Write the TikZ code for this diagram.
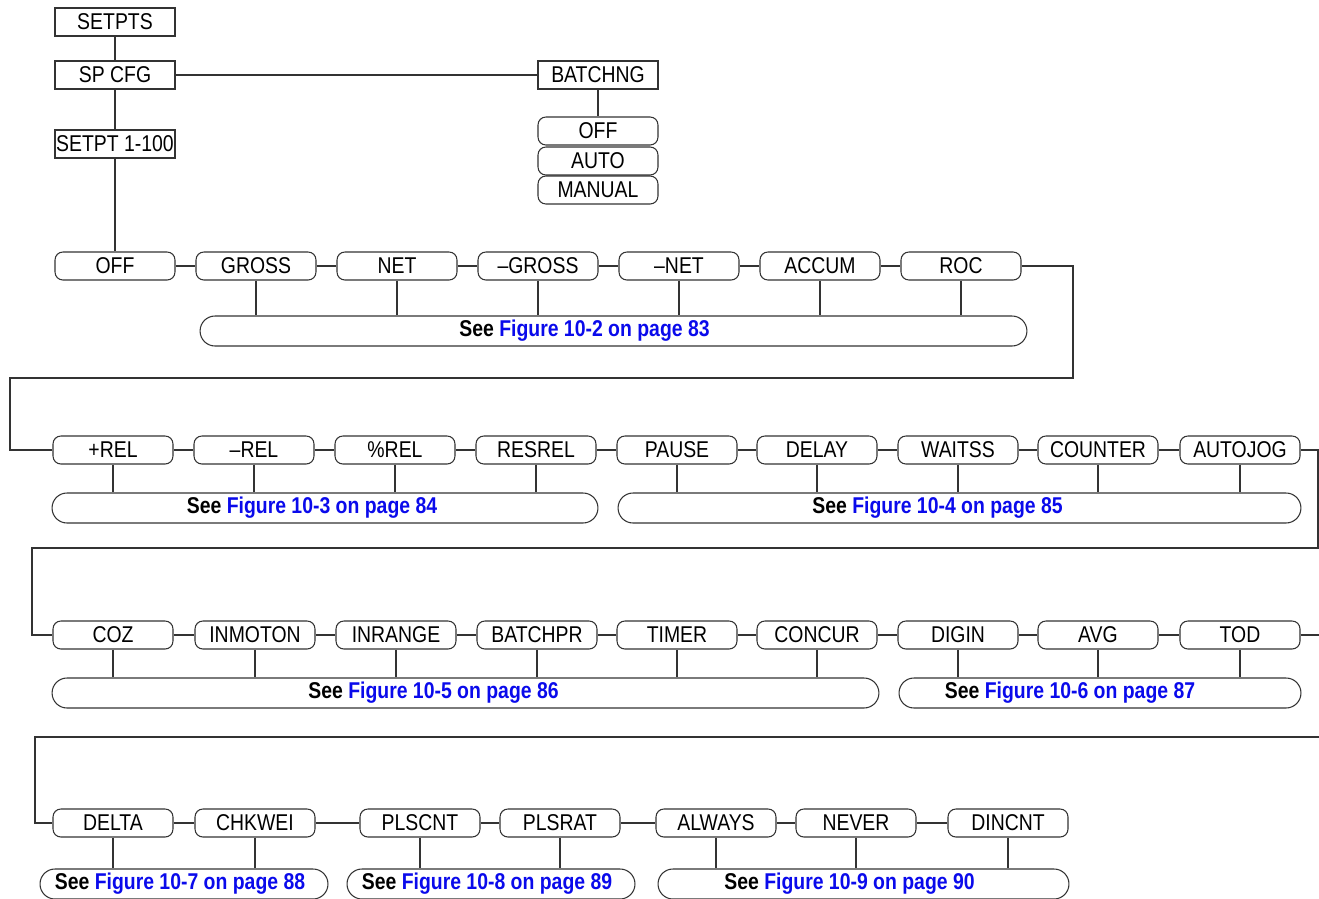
\documentclass[tikz,border=0pt]{standalone}
\usepackage{fontspec}
\setmainfont{Liberation Sans}[FakeStretch=0.85]
\definecolor{linkblue}{RGB}{10,10,235}

\tikzset{
  conn/.style={draw=black!80, line width=0.6pt},
  menu/.style={conn, minimum width=2.4cm, minimum height=0.56cm, inner sep=0pt,
    font=\fontsize{13}{13}\selectfont},
  param/.style={menu, rounded corners=4.5pt},
  seebox/.style={conn, rounded corners=8.5pt, minimum height=0.6cm, inner sep=0pt,
    font=\bfseries\fontsize{13}{13}\selectfont},
}
% text sits a little left of the box centre
\newcommand{\seefig}[2]{See \textcolor{linkblue}{Figure #1}\hspace*{#2}}

\begin{document}
\begin{tikzpicture}[x=0.02cm, y=-0.02cm]
    \useasboundingbox (0,0) rectangle (1319,899);
    % top menus
    \node[menu] (setpts) at (115,22) {SETPTS};
    \node[menu] (spcfg) at (115,75) {SP CFG};
    \node[menu] (setpt) at (115,144) {SETPT 1-100};
    \node[menu] (batchng) at (598,75) {BATCHNG};
    \node[param] (boff) at (598,131) {OFF};
    \node[param] (bauto) at (598,161) {AUTO};
    \node[param] (bmanual) at (598,190) {MANUAL};
    \draw[conn] (setpts) -- (spcfg);
    \draw[conn] (spcfg) -- (setpt);
    \draw[conn] (spcfg) -- (batchng);
    \draw[conn] (batchng) -- (boff);

    % setpoint kinds
    \foreach \n/\t/\x in {off/OFF/115, gross/GROSS/256, net/NET/397,
        mgross/\textendash GROSS/538, mnet/\textendash NET/679, accum/ACCUM/820, roc/ROC/961}
        \node[param] (\n) at (\x,266) {\t};
    \foreach \n/\t/\x in {prel/+REL/113, mrel/\textendash REL/254, pcrel/\%REL/395,
        resrel/RESREL/536, pause/PAUSE/677, delay/DELAY/817, waitss/WAITSS/958,
        counter/COUNTER/1098, autojog/AUTOJOG/1240}
        \node[param] (\n) at (\x,450) {\t};
    \foreach \n/\t/\x in {coz/COZ/113, inmoton/INMOTON/255, inrange/INRANGE/396,
        batchpr/BATCHPR/537, timer/TIMER/677, concur/CONCUR/817, digin/DIGIN/958,
        avg/AVG/1098, tod/TOD/1240}
        \node[param] (\n) at (\x,635) {\t};
    \foreach \n/\t/\x in {delta/DELTA/113, chkwei/CHKWEI/255, plscnt/PLSCNT/420,
        plsrat/PLSRAT/560, always/ALWAYS/716, never/NEVER/856, dincnt/DINCNT/1008}
        \node[param] (\n) at (\x,823) {\t};

    % references
    \node[seebox, minimum width=16.54cm] (see2) at (613.5,331) {\seefig{10-2 on page 83}{1.16cm}};
    \node[seebox, minimum width=10.92cm] (see3) at (325,508) {\seefig{10-3 on page 84}{0.52cm}};
    \node[seebox, minimum width=13.66cm] (see4) at (959.5,508) {\seefig{10-4 on page 85}{0.88cm}};
    \node[seebox, minimum width=16.54cm] (see5) at (465.5,693) {\seefig{10-5 on page 86}{1.28cm}};
    \node[seebox, minimum width=8.04cm] (see6) at (1100,693) {\seefig{10-6 on page 87}{1.2cm}};
    \node[seebox, minimum width=5.76cm] (see7) at (184,884) {\seefig{10-7 on page 88}{0.16cm}};
    \node[seebox, minimum width=5.76cm] (see8) at (491,884) {\seefig{10-8 on page 89}{0.16cm}};
    \node[seebox, minimum width=8.22cm] (see9) at (863.5,884) {\seefig{10-9 on page 90}{0.56cm}};

    % chains
    \draw[conn] (setpt) -- (off);
    \foreach \a/\b in {off/gross, gross/net, net/mgross, mgross/mnet, mnet/accum, accum/roc,
        prel/mrel, mrel/pcrel, pcrel/resrel, resrel/pause, pause/delay, delay/waitss,
        waitss/counter, counter/autojog, coz/inmoton, inmoton/inrange, inrange/batchpr,
        batchpr/timer, timer/concur, concur/digin, digin/avg, avg/tod, delta/chkwei,
        chkwei/plscnt, plscnt/plsrat, plsrat/always, always/never, never/dincnt}
        \draw[conn] (\a) -- (\b);
    \draw[conn] (roc.east) -- (1073,266) -- (1073,378) -- (10,378) |- (prel.west);
    \draw[conn] (autojog.east) -- (1318,450) -- (1318,548) -- (32,548) |- (coz.west);
    \draw[conn] (tod.east) -- (1340,635) -- (1340,737) -- (35,737) |- (delta.west);

    % drops to references
    \foreach \n/\s in {gross/see2, net/see2, mgross/see2, mnet/see2, accum/see2, roc/see2,
        prel/see3, mrel/see3, pcrel/see3, resrel/see3, pause/see4, delay/see4, waitss/see4,
        counter/see4, autojog/see4, coz/see5, inmoton/see5, inrange/see5, batchpr/see5,
        timer/see5, concur/see5, digin/see6, avg/see6, tod/see6, delta/see7, chkwei/see7,
        plscnt/see8, plsrat/see8, always/see9, never/see9, dincnt/see9}
        \draw[conn] (\n.south) -- (\n.south |- \s.north);
\end{tikzpicture}
\end{document}
